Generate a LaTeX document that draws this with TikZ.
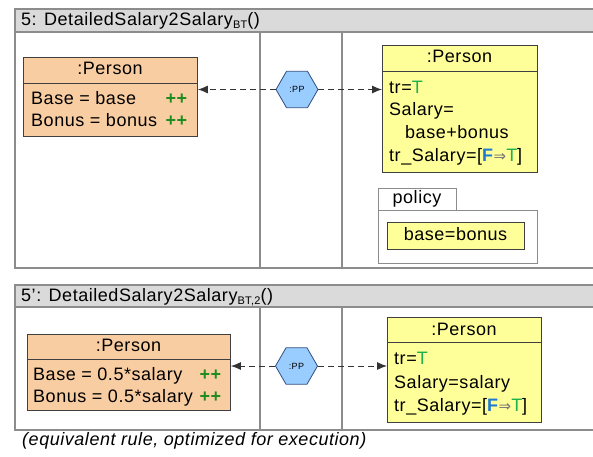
\documentclass[tikz,border=0pt]{standalone}
\usepackage{fontspec}
\setmainfont{Liberation Sans}[LetterSpace=3]
\newfontfamily\symfont{DejaVu Sans}
\usetikzlibrary{shapes.geometric,arrows.meta}
\definecolor{orangefill}{HTML}{F9CDA2}
\definecolor{yellowfill}{HTML}{FFFF99}
\definecolor{hexfill}{HTML}{99CCFF}
\definecolor{hexline}{HTML}{2F4F7F}
\definecolor{hdrfill}{HTML}{DADADA}
\definecolor{panelline}{HTML}{8C8C8C}
\definecolor{tgreen}{HTML}{1DB04C}
\definecolor{pgreen}{HTML}{1E8C1E}
\definecolor{fblue}{HTML}{1F78D1}
\newcommand{\Tv}{\textcolor{tgreen}{T}}
\newcommand{\Fv}{\textcolor{fblue}{\textbf{F}}}
\newcommand{\impl}{{\symfont\fontsize{15}{15}\selectfont\textcolor{black!55}{⇒}}}
\newcommand{\plusplus}{\textcolor{pgreen}{\textbf{++}}}
\begin{document}
\begin{tikzpicture}[x=1pt,y=-1pt,
  panel/.style={draw=panelline,line width=1.3pt},
  hdr/.style={draw=panelline,line width=1.3pt,fill=hdrfill},
  obox/.style={draw=black!75,line width=0.9pt,fill=orangefill,anchor=north west,inner sep=0pt},
  ybox/.style={draw=black!75,line width=0.9pt,fill=yellowfill,anchor=north west,inner sep=0pt},
  wbox/.style={draw=panelline,line width=1pt,fill=white,anchor=north west,inner sep=0pt},
  sep/.style={draw=black!75,line width=0.9pt},
  txt/.style={font=\fontsize{18}{20}\selectfont,inner sep=0pt,text height=13pt,text depth=4pt},
  ttl/.style={font=\fontsize{18}{20}\selectfont,inner sep=0pt,anchor=west,text height=13pt,text depth=4pt},
  hexa/.style={regular polygon,regular polygon sides=6,minimum size=42pt,inner sep=0pt,
    fill=hexfill,draw=hexline,line width=0.8pt,font=\fontsize{9}{9}\selectfont},
  conn/.style={draw=black!80,line width=0.9pt,dash pattern=on 6pt off 4pt,
    -{Latex[length=10pt,width=8pt]}}
]
\useasboundingbox (0,0) rectangle (593,456);
\clip (0,0) rectangle (593,456);

% ---------- panel 1 ----------
\draw[panel] (15,9) rectangle (610,268);
\filldraw[hdr] (15,9) rectangle (610,32);
\node[ttl] (t1) at (21,20.5) {5: DetailedSalary2Salary\raisebox{-3pt}{\fontsize{11}{11}\selectfont BT}()};
\draw[panel] (260,32) -- (260,268);
\draw[panel] (342,32) -- (342,268);

\node[obox,minimum width=174pt,minimum height=79pt] (p1) at (23,57) {};
\draw[sep] (23,83) -- (197,83);
\node[txt] (p1h) at (110,70) {:Person};
\node[txt,anchor=west] (p1a) at (31,100) {Base = base};
\node[txt,anchor=west] (p1b) at (31,122) {Bonus = bonus};
\node[txt,anchor=east] (p1ap) at (188,100) {\plusplus};
\node[txt,anchor=east] (p1bp) at (188,122) {\plusplus};

\node[hexa] (h1) at (297,89.5) {:PP};

\node[ybox,minimum width=155pt,minimum height=127pt] (y1) at (382,45) {};
\draw[sep] (382,71) -- (537,71);
\node[txt] (y1h) at (459.5,58) {:Person};
\node[txt,anchor=west] (y1a) at (389,89) {tr=\Tv};
\node[txt,anchor=west] (y1b) at (389,111) {Salary=};
\node[txt,anchor=west] (y1c) at (405,134) {base+bonus};
\node[txt,anchor=west] (y1d) at (389,157) {tr\_Salary=[\Fv\impl\Tv]};

\draw[conn] (h1.west) -- (p1.east |- h1.west);
\draw[conn] (h1.east) -- (y1.west |- h1.east);

\node[wbox,minimum width=78pt,minimum height=22pt] (pt1) at (378,188) {};
\node[txt] (pt1l) at (417,199) {policy};
\node[wbox,minimum width=159pt,minimum height=53pt] (pb1) at (378,210) {};
\node[ybox,minimum width=137pt,minimum height=27pt,line width=1.1pt] (pc1) at (387,222) {};
\node[txt] (pc1l) at (455.5,235.5) {base=bonus};

% ---------- panel 2 ----------
\draw[panel] (15,285) rectangle (610,430);
\filldraw[hdr] (15,285) rectangle (610,307);
\node[ttl] (t2) at (21,296.5) {5’: DetailedSalary2Salary\raisebox{-3pt}{\fontsize{11}{11}\selectfont BT,2}()};
\draw[panel] (260,307) -- (260,430);
\draw[panel] (342,307) -- (342,430);

\node[obox,minimum width=203pt,minimum height=76pt] (p2) at (27,334) {};
\draw[sep] (27,359) -- (230,359);
\node[txt] (p2h) at (128.5,347) {:Person};
\node[txt,anchor=west] (p2a) at (33,376) {Base = 0.5*salary};
\node[txt,anchor=west] (p2b) at (33,398) {Bonus = 0.5*salary};
\node[txt,anchor=east] (p2ap) at (222,376) {\plusplus};
\node[txt,anchor=east] (p2bp) at (222,398) {\plusplus};

\node[hexa] (h2) at (296.5,366) {:PP};

\node[ybox,minimum width=154pt,minimum height=105pt] (y2) at (387,317) {};
\draw[sep] (387,342) -- (541,342);
\node[txt] (y2h) at (464,330.5) {:Person};
\node[txt,anchor=west] (y2a) at (394,360) {tr=\Tv};
\node[txt,anchor=west] (y2b) at (394,384) {Salary=salary};
\node[txt,anchor=west] (y2c) at (394,407) {tr\_Salary=[\Fv\impl\Tv]};

\draw[conn] (h2.west) -- (p2.east |- h2.west);
\draw[conn] (h2.east) -- (y2.west |- h2.east);

\node[anchor=west,inner sep=0pt,font=\fontsize{18}{20}\selectfont\itshape] (cap) at (22,441) {(equivalent rule, optimized for execution)};
\end{tikzpicture}
\end{document}
